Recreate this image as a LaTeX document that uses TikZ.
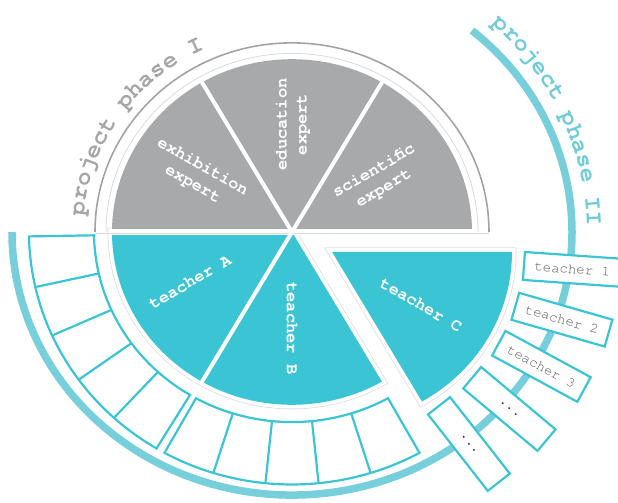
\documentclass[tikz,border=0pt]{standalone}
\usepackage{fontspec}
\newfontfamily\mono{TeX Gyre Cursor}
\usetikzlibrary{decorations.text}
\definecolor{tealc}{HTML}{3BC5D4}
\definecolor{tealarc}{HTML}{78CFDC}
\definecolor{tealtxt}{HTML}{72CBD8}
\definecolor{grayc}{HTML}{A8A9AB}
\definecolor{grayline}{HTML}{A3A3A3}
\definecolor{graytxt}{HTML}{A6A6A6}
\definecolor{boxtxt}{HTML}{5A5A5A}
\definecolor{faintc}{HTML}{DADADA}
\begin{document}
\begin{tikzpicture}[x=1pt,y=0.96pt,
  cell/.style={draw=tealc, line width=2.2pt, fill=white},
  pbox/.style={draw=tealc, line width=2.2pt, fill=white, minimum width=97pt, minimum height=28pt, inner sep=0pt, font=\mono\fontsize{14}{14}\selectfont, text=boxtxt},
  slicetxt/.style={font=\mono\bfseries\fontsize{17}{20}\selectfont, text=white, align=center},
  sepline/.style={draw=white, line width=4pt},
  faintline/.style={draw=faintc, line width=0.8pt},
  abpath/.style={insert path={(0,0) -- (180:180) arc[start angle=180,end angle=300,radius=180] -- cycle}},
  cpath/.style={insert path={(0,0) -- (300:180) arc[start angle=300,end angle=360,radius=180] -- cycle}},
]
\useasboundingbox (-292,-281.25) rectangle (326,241.67);
% phase II thick arc
\draw[tealarc, line width=7.5pt] (50:280 and 274) arc[start angle=50, end angle=-180, x radius=280, y radius=274];
% phase I grey arc
\draw[grayline, line width=1.6pt] (0:197) arc[start angle=0,end angle=180,radius=197];
\draw[faintline] (0:186) arc[start angle=0,end angle=180,radius=186];
% teacher A + B
\path[draw=black!13, line width=9pt, abpath];
\path[draw=white, line width=7.4pt, abpath];
\fill[tealc, abpath];
% teacher C (exploded)
\begin{scope}[shift={(40,-20.7)}]
\path[draw=black!13, line width=9pt, cpath];
\path[draw=white, line width=7.4pt, cpath];
\fill[tealc, cpath];
\end{scope}
% grey half
\fill[grayc] (0:180) arc[start angle=0,end angle=180,radius=180] -- cycle;
\fill[white] (-181,-3) rectangle (181,2.8);
\draw[faintline] (-197,-1.3) -- (197,-1.3);
% separators
\draw[sepline] (0,0) -- (60:181);
\draw[sepline] (0,0) -- (120:181);
\draw[sepline] (0,0) -- (240:181);
% phase I cells
\draw[cell] (181:198) arc[start angle=181,end angle=239,radius=198] -- (239:263) arc[start angle=239,end angle=181,radius=263] -- cycle;
\foreach \a in {192.6,204.2,215.8,227.4} \draw[cell] (\a:198) -- (\a:263);
\draw[cell] (241:198) arc[start angle=241,end angle=299,radius=198] -- (299:263) arc[start angle=299,end angle=241,radius=263] -- cycle;
\foreach \a in {252.6,264.2,275.8,287.4} \draw[cell] (\a:198) -- (\a:263);
% phase II boxes
\node[pbox, rotate=-4] (t1) at (-7.9:283) {teacher 1};
\node[pbox, rotate=-16] (t2) at (-18.7:285) {teacher 2};
\node[pbox, rotate=-28.5] (t3) at (-29.3:286) {teacher 3};
\node[pbox, rotate=-40, text=black!80, font=\mono\bfseries\fontsize{14}{14}\selectfont] (t4) at (-40.3:285) {...};
\node[pbox, rotate=-52, text=black!80, font=\mono\bfseries\fontsize{14}{14}\selectfont] (t5) at (-51.3:283) {...};
% slice labels
\node[slicetxt, rotate=-30] (exh) at (-94.5,58.3) {exhibition\\expert};
\node[slicetxt, rotate=90] (edu) at (1,112) {education\\expert};
\node[slicetxt, rotate=30] (sci) at (87,54) {scientific\\expert};
\node[slicetxt, rotate=30] (ta) at (-102,-52) {teacher A};
\node[slicetxt, rotate=-90] (tb) at (0,-100.5) {teacher B};
\node[slicetxt, rotate=-30] (tc) at (129,-76) {teacher C};
% phase labels
\path[decorate, decoration={text along path, text={|\mono\bfseries\fontsize{24}{24}\selectfont|project phase I}, text color=graytxt}] (175.5:209) arc[start angle=175.5, end angle=100, radius=209];
\path[decorate, decoration={text along path, text={|\mono\bfseries\fontsize{24}{24}\selectfont|project phase II}, text color=tealtxt}] (47.4:295) arc[start angle=47.4, end angle=-15, radius=295];
\end{tikzpicture}
\end{document}
